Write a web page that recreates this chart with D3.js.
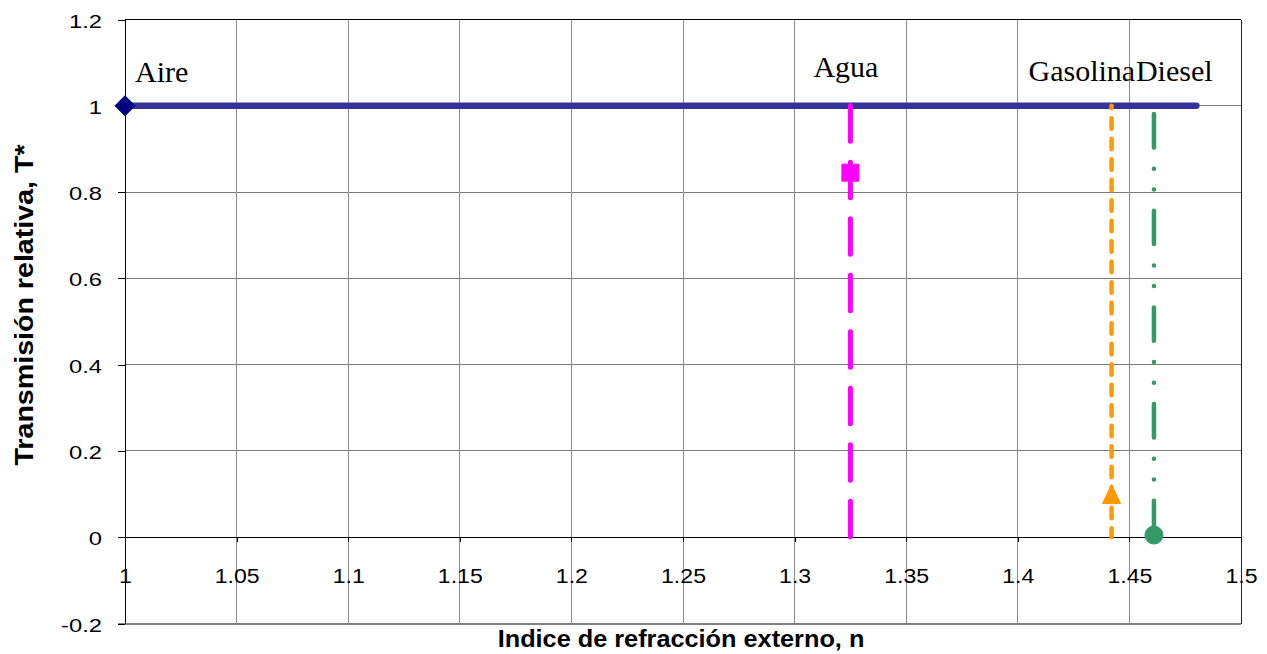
<!DOCTYPE html>
<html>
<head>
<meta charset="utf-8">
<script src="https://cdn.jsdelivr.net/npm/d3@7"></script>
<style>
  html, body { margin: 0; padding: 0; background: #ffffff; }
  svg { display: block; }
</style>
</head>
<body>
<svg id="chart" width="1267" height="654"></svg>
<script>
// Refractive index (x) ticks and labels
const nTicks = [1, 1.05, 1.1, 1.15, 1.2, 1.25, 1.3, 1.35, 1.4, 1.45, 1.5];
const nTickLabels = ["1", "1.05", "1.1", "1.15", "1.2", "1.25", "1.3", "1.35", "1.4", "1.45", "1.5"];
// Relative transmission (y) ticks and labels
const tTicks = [-0.2, 0, 0.2, 0.4, 0.6, 0.8, 1, 1.2];
const tTickLabels = ["-0.2", "0", "0.2", "0.4", "0.6", "0.8", "1", "1.2"];

// Series: external refractive index n and relative transmission T*
const seriesNames = ["Aire", "Agua", "Gasolina", "Diesel"];
const aireN = [1, 1.48];
const aireT = [1, 1];
const aguaN = [1.325, 1.325, 1.325];
const aguaT = [1, 0.845, 0];
const gasolinaN = [1.442, 1.442, 1.442];
const gasolinaT = [1, 0.1, 0];
const dieselN = [1.461, 1.461];
const dieselT = [1, 0.005];
// index of the point that carries the marker in each series
const markerIndex = [0, 1, 1, 1];

(function () {
  const svg = d3.select("#chart");

  const x = d3.scaleLinear().domain([1, 1.5]).range([125, 1241]);
  const y = d3.scaleLinear().domain([-0.2, 1.2]).range([623.5, 19.5]);

  const pLeft = x.range()[0], pRight = x.range()[1];
  const pTop = y.range()[1], pBottom = y.range()[0];

  // gridlines
  const grid = svg.append("g").attr("shape-rendering", "crispEdges");
  grid.selectAll("line.h")
    .data(tTicks.filter(d => d > 0 && d < 1.2))
    .join("line")
    .attr("x1", pLeft).attr("x2", pRight)
    .attr("y1", d => y(d)).attr("y2", d => y(d))
    .attr("stroke", "#7a7a7a").attr("stroke-width", 1);
  grid.selectAll("line.v")
    .data(nTicks.filter(d => d > 1 && d < 1.5))
    .join("line")
    .attr("x1", d => x(d)).attr("x2", d => x(d))
    .attr("y1", pTop).attr("y2", pBottom)
    .attr("stroke", "#8a8a8a").attr("stroke-width", 1);

  // plot frame
  grid.append("line").attr("x1", pLeft).attr("x2", pRight).attr("y1", pTop).attr("y2", pTop)
    .attr("stroke", "#000").attr("stroke-width", 1);
  grid.append("line").attr("x1", pRight).attr("x2", pRight).attr("y1", pTop).attr("y2", pBottom)
    .attr("stroke", "#222").attr("stroke-width", 1);
  grid.append("line").attr("x1", pLeft - 7).attr("x2", pRight).attr("y1", pBottom).attr("y2", pBottom)
    .attr("stroke", "#808080").attr("stroke-width", 2);

  // y axis
  const yAxis = svg.append("g")
    .attr("transform", `translate(${pLeft},0)`)
    .attr("shape-rendering", "crispEdges")
    .call(d3.axisLeft(y).tickValues(tTicks).tickSize(7).tickSizeOuter(0)
      .tickFormat((d, i) => tTickLabels[i]));
  yAxis.select(".domain").attr("stroke", "#000");
  yAxis.selectAll(".tick line").attr("stroke", "#000");
  yAxis.selectAll(".tick text")
    .attr("font-family", "'Liberation Sans', Arial, sans-serif")
    .attr("font-size", 19)
    .attr("fill", "#000")
    .attr("x", -23 / 1.25)
    .attr("dy", "0.4em")
    .attr("transform", "scale(1.25,1)");

  // x axis at T* = 0
  const xAxis = svg.append("g")
    .attr("transform", `translate(0,${y(0)})`)
    .attr("shape-rendering", "crispEdges")
    .call(d3.axisBottom(x).tickValues(nTicks).tickSize(5).tickSizeOuter(0)
      .tickFormat((d, i) => nTickLabels[i]));
  xAxis.select(".domain").attr("stroke", "#000");
  xAxis.selectAll(".tick line").attr("stroke", "#000");
  xAxis.selectAll(".tick text")
    .attr("font-family", "'Liberation Sans', Arial, sans-serif")
    .attr("font-size", 21)
    .attr("fill", "#000")
    .attr("y", 31)
    .attr("dy", "0.71em")
    .attr("transform", "scale(1.1,1)");

  // axis titles
  svg.append("text")
    .attr("transform", `translate(681,646.5) scale(1.1,1)`)
    .attr("text-anchor", "middle")
    .attr("font-family", "'Liberation Sans', Arial, sans-serif")
    .attr("font-weight", "bold")
    .attr("font-size", 23)
    .attr("fill", "#000")
    .text("Indice de refracción externo, n");
  svg.append("text")
    .attr("transform", `translate(33,305) rotate(-90) scale(1.1,1)`)
    .attr("text-anchor", "middle")
    .attr("font-family", "'Liberation Sans', Arial, sans-serif")
    .attr("font-weight", "bold")
    .attr("font-size", 26)
    .attr("fill", "#000")
    .text("Transmisión relativa, T*");

  // custom marker shapes
  const diamond = {
    draw(ctx, size) {
      const r = Math.sqrt(size) / 2;
      ctx.moveTo(0, -r); ctx.lineTo(r, 0); ctx.lineTo(0, r); ctx.lineTo(-r, 0); ctx.closePath();
    }
  };
  const triangle = {
    draw(ctx, size) {
      const w = Math.sqrt(size) / 2;
      ctx.moveTo(0, -w * 1.05); ctx.lineTo(w, w * 1.05); ctx.lineTo(-w, w * 1.05); ctx.closePath();
    }
  };

  const series = [
    { n: aireN, t: aireT, color: "#333399", width: 6.5, dash: null, offset: 0,
      marker: d3.symbol(diamond, 400)(), markerColor: "#000080" },
    { n: aguaN, t: aguaT, color: "#FF00FF", width: 5, dash: "35.5,21", offset: 0,
      marker: d3.symbol(d3.symbolSquare, 290)(), markerColor: "#FF00FF" },
    { n: gasolinaN, t: gasolinaT, color: "#FF9900", width: 4.5, dash: "10.5,10", offset: 8,
      marker: d3.symbol(triangle, 324)(), markerColor: "#FF9900" },
    { n: dieselN, t: dieselT, color: "#339966", width: 4.5, dash: "33.4,21.3,0,20.7,0,21.3", offset: 88.5,
      marker: d3.symbol(d3.symbolCircle, Math.PI * 81)(), markerColor: "#339966" }
  ];

  const line = d3.line().x(d => x(d[0])).y(d => y(d[1]));

  series.forEach((s, i) => {
    const pts = s.n.map((v, k) => [v, s.t[k]]);
    const path = svg.append("path")
      .attr("d", line(pts))
      .attr("fill", "none")
      .attr("stroke", s.color)
      .attr("stroke-width", s.width)
      .attr("stroke-linecap", "round");
    if (s.dash) path.attr("stroke-dasharray", s.dash).attr("stroke-dashoffset", s.offset);
    const m = pts[markerIndex[i]];
    svg.append("path")
      .attr("d", s.marker)
      .attr("transform", `translate(${x(m[0])},${y(m[1])})`)
      .attr("fill", s.markerColor)
      .attr("stroke", s.markerColor)
      .attr("stroke-width", 1)
      .attr("stroke-linejoin", "round");
  });

  // series name labels above the T* = 1 level
  const labelOffsets = [[10, -24], [-37, -29], [-83, -25], [-18, -25]];
  const labelAnchors = [aireN[0], aguaN[0], gasolinaN[0], dieselN[0]];
  svg.selectAll("text.name")
    .data(seriesNames)
    .join("text")
    .attr("class", "name")
    .attr("x", (d, i) => x(labelAnchors[i]) + labelOffsets[i][0])
    .attr("y", (d, i) => y(1) + labelOffsets[i][1])
    .attr("font-family", "'Liberation Serif', 'Times New Roman', serif")
    .attr("font-size", 30)
    .attr("fill", "#000")
    .text(d => d);
})();
</script>
</body>
</html>
